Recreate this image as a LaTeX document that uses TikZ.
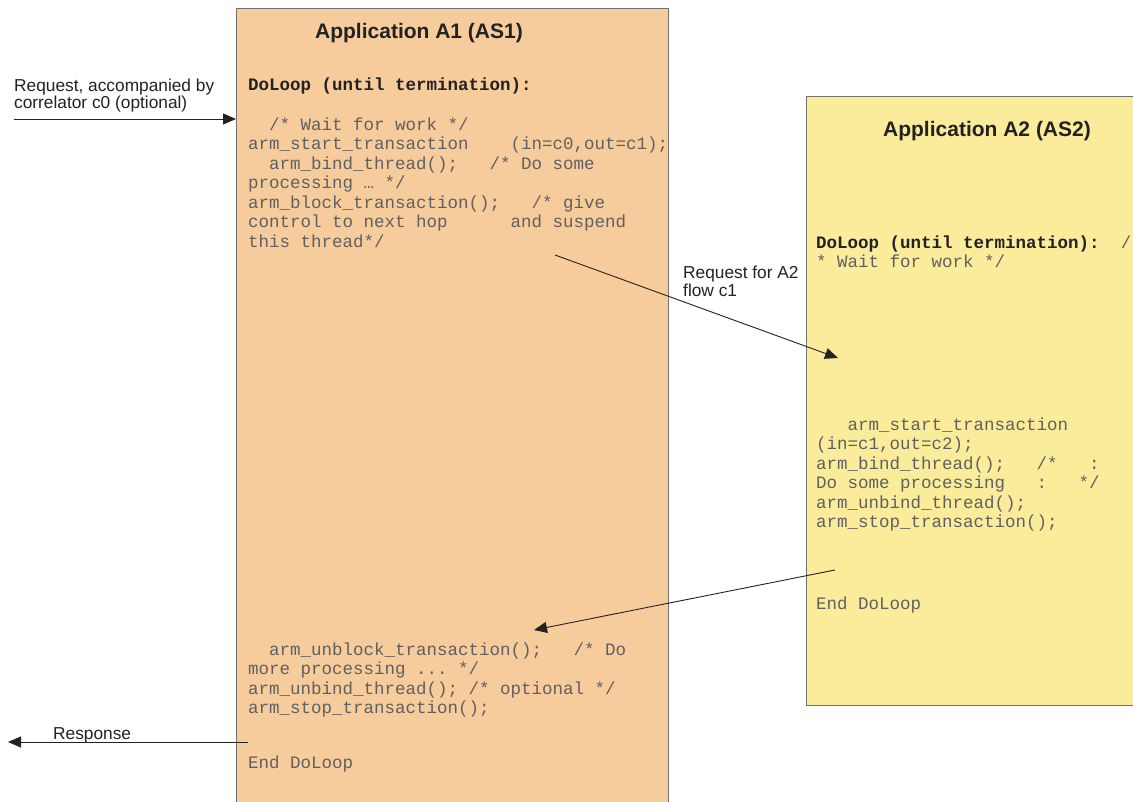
\documentclass[tikz,border=0pt]{standalone}
\usepackage{fontspec}
\setmainfont{Liberation Sans}
\setmonofont{Liberation Mono}
\usetikzlibrary{positioning, arrows.meta}

\definecolor{peach}{HTML}{F6CC9C}
\definecolor{lemon}{HTML}{FBEC9C}
\definecolor{frame}{HTML}{707070}
\definecolor{codegray}{HTML}{606060}
\definecolor{ink}{HTML}{222222}

\begin{document}
\begin{tikzpicture}[x=1pt, y=-1pt]
    \useasboundingbox (0,0) rectangle (1133,802);

    % Define styles
    \tikzset{
        appbox/.style={draw=frame, line width=1.3pt, inner sep=0pt, anchor=north west},
        heading/.style={font=\fontsize{21}{24}\selectfont\bfseries, text=ink, anchor=base, inner sep=0pt},
        label/.style={font=\fontsize{17.3}{18}\selectfont, text=ink, anchor=base west, inner sep=0pt},
        codeline/.style={font=\fontsize{17.5}{19.5}\selectfont\ttfamily, text=codegray, anchor=base west, inner sep=0pt},
        codebold/.style={codeline, font=\fontsize{17.5}{19.5}\selectfont\ttfamily\bfseries, text=ink},
        flow/.style={draw=ink, line width=0.9pt, -{Triangle[length=13pt, width=11pt]}}
    }

    % Define nodes
    \node[appbox, fill=peach, minimum width=432pt, minimum height=810pt] (AppOne) at (236, 8) {};
    \node[appbox, fill=lemon, minimum width=340pt, minimum height=609pt] (AppTwo) at (806, 96) {};
    \node[heading] (AppOneTitle) at (419, 39) {Application A1 (AS1)};
    \node[heading] (AppTwoTitle) at (987, 137) {Application A2 (AS2)};

    % Code in A1
    \node[codebold] (OneLoop) at (248, 91) {DoLoop (until termination):};
    \foreach \txt [count=\i from 0] in {
        {~~/* Wait for work */},
        {arm\_start\_transaction~~~~(in=c0,out=c1);},
        {~~arm\_bind\_thread();~~~/* Do some},
        {processing … */},
        {arm\_block\_transaction();~~~/* give},
        {control to next hop~~~~~~and suspend},
        {this thread*/}}
        \node[codeline] (OneTop\i) at (248, 130.5+19.5*\i) {\txt};
    \foreach \txt [count=\i from 0] in {
        {~~arm\_unblock\_transaction();~~~/* Do},
        {more processing .{}.{}. */},
        {arm\_unbind\_thread(); /* optional */},
        {arm\_stop\_transaction();}}
        \node[codeline] (OneBottom\i) at (248, 655+19.5*\i) {\txt};
    \node[codeline] (OneEnd) at (248, 768) {End DoLoop};

    % Code in A2
    \node[codeline] (TwoLoop) at (816, 248.5) {{\color{ink}\bfseries DoLoop (until termination):}~~/};
    \node[codeline] (TwoWait) at (816, 267.5) {* Wait for work */};
    \foreach \txt [count=\i from 0] in {
        {~~~arm\_start\_transaction},
        {(in=c1,out=c2);},
        {arm\_bind\_thread();~~~/*~~~:},
        {Do some processing~~~:~~~*/},
        {arm\_unbind\_thread();},
        {arm\_stop\_transaction();}}
        \node[codeline] (TwoCode\i) at (816, 430+19.5*\i) {\txt};
    \node[codeline] (TwoEnd) at (816, 609) {End DoLoop};

    % Labels
    \node[label] (ReqLineOne) at (14, 92) {Request, accompanied by};
    \node[label] (ReqLineTwo) at (14, 109) {correlator c0 (optional)};
    \node[label] (CallLineOne) at (683, 279) {Request for A2};
    \node[label] (CallLineTwo) at (683, 297) {flow c1};
    \node[label] (RespLabel) at (53, 739) {Response};

    % Free ends
    \coordinate (ReqIn) at (14, 119);
    \coordinate (CallOut) at (555, 255);
    \coordinate (CallIn) at (838, 358);
    \coordinate (BackOut) at (835, 570);
    \coordinate (BackIn) at (534, 630);
    \coordinate (RespOut) at (248, 742);
    \coordinate (RespEnd) at (8, 742);

    % Draw flows
    \draw[flow] (ReqIn) -- (ReqIn -| AppOne.west);
    \draw[flow] (CallOut) -- (CallIn);
    \draw[flow] (BackOut) -- (BackIn);
    \draw[flow] (RespOut) -- (RespEnd);
\end{tikzpicture}
\end{document}
